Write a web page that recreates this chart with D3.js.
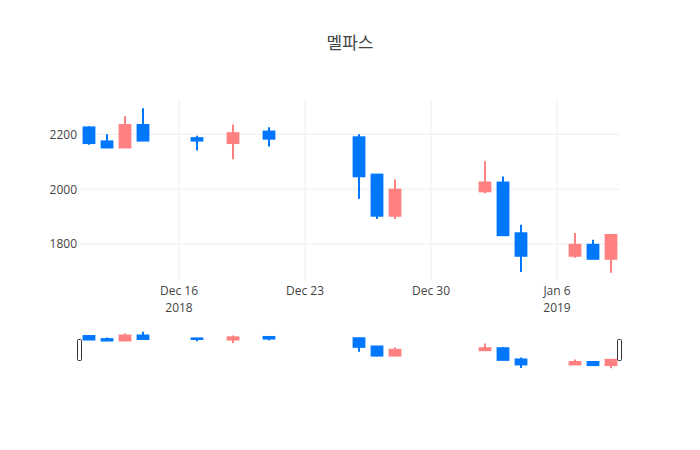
<!DOCTYPE html>
<html>
<head>
<meta charset="utf-8">
<script src="https://cdn.jsdelivr.net/npm/d3@7"></script>
<style>
  body { margin: 0; background: #fff; }
  svg { font-family: "Open Sans", "Noto Sans CJK KR", sans-serif; }
</style>
</head>
<body>
<div id="plot"></div>
<script>
// Daily prices
const dates = ["2018-12-11", "2018-12-12", "2018-12-13", "2018-12-14", "2018-12-17", "2018-12-19",
               "2018-12-21", "2018-12-26", "2018-12-27", "2018-12-28", "2019-01-02", "2019-01-03",
               "2019-01-04", "2019-01-07", "2019-01-08", "2019-01-09"];
const open  = [2225, 2174, 2152, 2234, 2186, 2168, 2210, 2189, 2053, 1903, 1992, 2024, 1839, 1757, 1797, 1746];
const high  = [2229, 2200, 2266, 2295, 2195, 2236, 2226, 2200, 2053, 2035, 2102, 2046, 1870, 1840, 1815, 1833];
const low   = [2162, 2152, 2152, 2177, 2141, 2109, 2155, 1965, 1891, 1891, 1985, 1832, 1698, 1750, 1746, 1695];
const close = [2168, 2152, 2234, 2177, 2177, 2204, 2184, 2047, 1903, 1998, 2024, 1832, 1757, 1797, 1746, 1833];

const yTicks = [1800, 2000, 2200];
const xTicks = ["2018-12-16", "2018-12-23", "2018-12-30", "2019-01-06"];
const xTickLabels = ["Dec 16", "Dec 23", "Dec 30", "Jan 6"];
const yearLabels = [["2018-12-16", "2018"], ["2019-01-06", "2019"]];

const incColor = "#ff8080", decColor = "#0077ff";

const W = 700, H = 450;
const plot = { left: 80, right: 620, top: 100, bottom: 281 };
const sliderTop = 330, sliderBottom = 370;

const parse = d3.utcParse("%Y-%m-%d");
const data = dates.map((d, i) => ({ date: parse(d), o: open[i], h: high[i], l: low[i], c: close[i] }));

const day = 864e5;
const x = d3.scaleUtc()
    .domain([new Date(data[0].date.getTime() - day / 2), new Date(data[data.length - 1].date.getTime() + day / 2)])
    .range([plot.left, plot.right]);

const lo = d3.min(low), hi = d3.max(high), pad = (hi - lo) * 0.05;
const y = d3.scaleLinear().domain([lo - pad, hi + pad]).range([plot.bottom, plot.top]);
const ys = d3.scaleLinear().domain(y.domain()).range([sliderBottom, sliderTop]);

const svg = d3.select("#plot").append("svg")
    .attr("width", W)
    .attr("height", H);

// gridlines
svg.append("g").selectAll("line")
    .data(yTicks)
    .join("line")
    .attr("x1", plot.left).attr("x2", plot.right)
    .attr("y1", d => y(d)).attr("y2", d => y(d))
    .attr("stroke", "#eee");

svg.append("g").selectAll("line")
    .data(xTicks)
    .join("line")
    .attr("x1", d => x(parse(d))).attr("x2", d => x(parse(d)))
    .attr("y1", plot.top).attr("y2", plot.bottom)
    .attr("stroke", "#eee");

// y tick labels
svg.append("g").selectAll("text")
    .data(yTicks)
    .join("text")
    .attr("x", 77)
    .attr("y", d => y(d) + 4.5)
    .attr("text-anchor", "end")
    .attr("font-size", 12)
    .attr("fill", "#444")
    .text(d => d);

// x tick labels, with the year on a second row
svg.append("g").selectAll("text")
    .data(xTicks)
    .join("text")
    .attr("x", d => x(parse(d)))
    .attr("y", 295)
    .attr("text-anchor", "middle")
    .attr("font-size", 12)
    .attr("fill", "#444")
    .text((d, i) => xTickLabels[i]);

svg.append("g").selectAll("text")
    .data(yearLabels)
    .join("text")
    .attr("x", d => x(parse(d[0])))
    .attr("y", 311.5)
    .attr("text-anchor", "middle")
    .attr("font-size", 12)
    .attr("fill", "#444")
    .text(d => d[1]);

function drawCandles(g, ysc) {
    const bw = x(new Date(day * 0.6)) - x(new Date(0));
    const c = g.selectAll("g")
        .data(data)
        .join("g")
        .attr("stroke", d => d.c >= d.o ? incColor : decColor)
        .attr("fill", d => d.c >= d.o ? incColor : decColor)
        .attr("stroke-width", 2);
    c.append("line")
        .attr("x1", d => x(d.date)).attr("x2", d => x(d.date))
        .attr("y1", d => ysc(d.h)).attr("y2", d => ysc(d.l));
    c.append("rect")
        .attr("x", d => x(d.date) - bw / 2)
        .attr("width", bw)
        .attr("y", d => ysc(Math.max(d.o, d.c)))
        .attr("height", d => Math.max(0.5, Math.abs(ysc(d.o) - ysc(d.c))));
}

drawCandles(svg.append("g"), y);

// range slider
const slider = svg.append("g");
slider.append("rect")
    .attr("x", plot.left).attr("y", sliderTop)
    .attr("width", plot.right - plot.left).attr("height", sliderBottom - sliderTop)
    .attr("fill", "#fff");
drawCandles(slider.append("g"), ys);
slider.selectAll(".grab")
    .data([plot.left, plot.right])
    .join("rect")
    .attr("class", "grab")
    .attr("x", d => d - 2.5)
    .attr("y", 339.5)
    .attr("width", 4)
    .attr("height", 21)
    .attr("rx", 1)
    .attr("fill", "#fff")
    .attr("stroke", "#333")
    .attr("stroke-width", 1);

// title
svg.append("text")
    .attr("x", W / 2)
    .attr("y", 49)
    .attr("text-anchor", "middle")
    .attr("font-size", 17)
    .attr("fill", "#444")
    .text("멜파스");
</script>
</body>
</html>
